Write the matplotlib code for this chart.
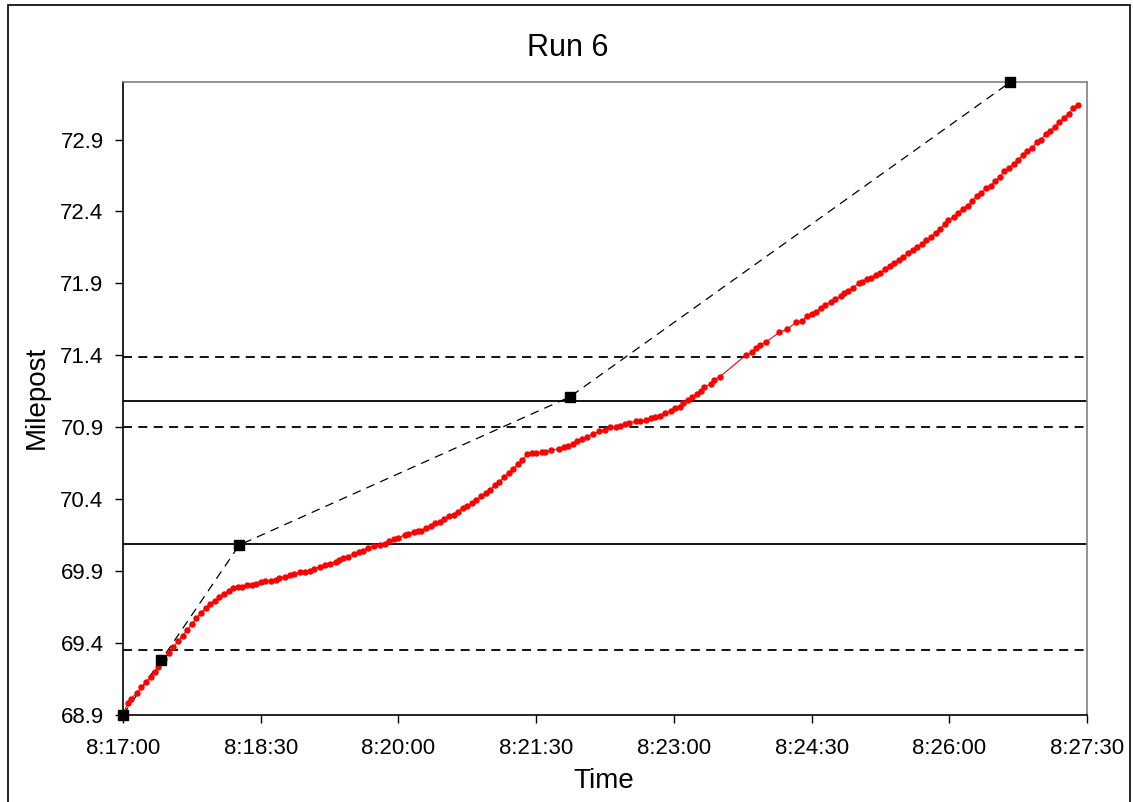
import numpy as np
import matplotlib
matplotlib.use('Agg')
import matplotlib.pyplot as plt
from matplotlib.patches import Rectangle

plt.rcParams['font.family'] = ['Liberation Sans', 'DejaVu Sans']

# seconds after 8:17:00 and milepost of the red trace
secs = [0, 3, 5, 9, 12, 15, 18, 21, 23, 27, 30, 33, 36, 39, 42, 45, 48, 51, 54, 57,
        60, 63, 66, 69, 72, 75, 78, 81, 84, 87, 90, 93, 97, 100, 102, 106, 109, 112, 116, 119,
        122, 125, 129, 132, 135, 139, 141, 144, 147, 151, 154, 157, 160, 164, 168, 171, 174, 177, 180, 184,
        186, 190, 193, 195, 198, 201, 204, 207, 210, 213, 216, 219, 222, 225, 228, 231, 234, 237, 240, 243,
        246, 249, 252, 255, 258, 261, 264, 267, 270, 274, 276, 280, 285, 288, 291, 294, 297, 300, 303, 307,
        311, 315, 318, 322, 325, 328, 331, 335, 338, 342, 345, 348, 351, 354, 358, 361, 364, 366, 369, 372,
        375, 378, 380, 384, 386, 390, 407, 411, 414, 416, 420, 429, 434, 440, 444, 447, 450, 453, 456, 459,
        463, 465, 469, 471, 474, 477, 481, 483, 486, 489, 492, 495, 498, 501, 504, 507, 510, 513, 516, 519,
        522, 525, 528, 531, 534, 537, 539, 543, 546, 549, 552, 555, 558, 561, 564, 567, 570, 573, 576, 579,
        582, 585, 588, 591, 594, 597, 600, 603, 606, 609, 612, 615, 618, 621, 624]
milepost = [68.90, 68.98, 69.01, 69.05, 69.09, 69.13, 69.16, 69.20, 69.23, 69.29, 69.33, 69.37, 69.41, 69.45, 69.49, 69.53, 69.57, 69.61, 69.64, 69.67,
            69.69, 69.72, 69.74, 69.76, 69.78, 69.79, 69.79, 69.80, 69.80, 69.81, 69.82, 69.83, 69.83, 69.84, 69.85, 69.86, 69.87, 69.88, 69.89, 69.89,
            69.90, 69.915, 69.93, 69.94, 69.95, 69.965, 69.975, 69.99, 70.00, 70.02, 70.03, 70.04, 70.06, 70.07, 70.08, 70.09, 70.11, 70.12, 70.13, 70.15,
            70.16, 70.17, 70.18, 70.18, 70.20, 70.21, 70.23, 70.24, 70.26, 70.28, 70.29, 70.31, 70.34, 70.35, 70.37, 70.39, 70.42, 70.44, 70.46, 70.50,
            70.52, 70.55, 70.58, 70.61, 70.64, 70.67, 70.71, 70.72, 70.72, 70.725, 70.73, 70.74, 70.75, 70.76, 70.77, 70.785, 70.80, 70.82, 70.83, 70.85,
            70.87, 70.88, 70.90, 70.90, 70.91, 70.92, 70.93, 70.94, 70.94, 70.95, 70.96, 70.97, 70.98, 71.00, 71.01, 71.03, 71.04, 71.07, 71.09, 71.11,
            71.13, 71.15, 71.18, 71.20, 71.23, 71.25, 71.40, 71.42, 71.45, 71.47, 71.49, 71.56, 71.58, 71.63, 71.64, 71.67, 71.69, 71.70, 71.73, 71.75,
            71.77, 71.79, 71.81, 71.83, 71.85, 71.87, 71.90, 71.91, 71.93, 71.94, 71.96, 71.97, 72.00, 72.02, 72.04, 72.06, 72.08, 72.11, 72.13, 72.15,
            72.17, 72.20, 72.22, 72.25, 72.28, 72.31, 72.34, 72.36, 72.39, 72.42, 72.44, 72.47, 72.51, 72.53, 72.56, 72.58, 72.61, 72.64, 72.68, 72.70,
            72.73, 72.76, 72.79, 72.82, 72.84, 72.88, 72.90, 72.94, 72.96, 72.99, 73.02, 73.05, 73.08, 73.12, 73.14]

# black square markers joined by dashed line
sq_secs = [0, 25, 76, 292, 580]
sq_milepost = [68.90, 69.28, 70.08, 71.11, 73.30]

# reference lines
solid_levels = [71.08, 70.09]
dashed_levels = [71.39, 70.90, 69.35]

xtick_secs = [0, 90, 180, 270, 360, 450, 540, 630]
xtick_labels = ['8:17:00', '8:18:30', '8:20:00', '8:21:30', '8:23:00', '8:24:30', '8:26:00', '8:27:30']
ytick_vals = [68.9, 69.4, 69.9, 70.4, 70.9, 71.4, 71.9, 72.4, 72.9]

fig = plt.figure(figsize=(11.33, 8.02), dpi=100)
ax = fig.add_axes([123/1133, 1 - 714.7/802, (1087-123)/1133, (714.7-82)/802])

for lv in solid_levels:
    ax.axhline(lv, color='black', lw=1.3, zorder=2)
for lv in dashed_levels:
    ax.axhline(lv, color='black', lw=1.3, ls=(0, (5, 3.5)), zorder=2)

ax.plot(sq_secs, sq_milepost, color='black', lw=0.9, ls=(0, (7, 5)), zorder=3)
ax.plot(secs, milepost, color='red', lw=0.8, marker='o', ms=3.6, mec='red', mfc='red', zorder=4)
ax.plot(sq_secs, sq_milepost, ls='none', marker='s', ms=7.5, color='black', zorder=5, clip_on=False)

ax.set_xlim(0, 630)
ax.set_ylim(68.9, 73.3)
ax.set_xticks(xtick_secs)
ax.set_xticklabels(xtick_labels)
ax.set_yticks(ytick_vals)
ax.set_yticklabels([f'{v:.1f}' for v in ytick_vals])
ax.tick_params(direction='out', length=6, width=1, labelsize=16)
ax.tick_params(axis='x', pad=11)
ax.tick_params(axis='y', pad=8)

for s in ['top', 'right']:
    ax.spines[s].set_color('#808080')
for s in ['left', 'bottom']:
    ax.spines[s].set_color('black')
for s in ax.spines.values():
    s.set_linewidth(1.2)

fig.text(568/1133, 1 - 48/802, 'Run 6', ha='center', va='center', fontsize=22)
fig.text(604/1133, 1 - 781/802, 'Time', ha='center', va='center', fontsize=20)
fig.text(37/1133, 1 - 397/802, 'Milepost', ha='center', va='center', rotation=90, fontsize=20)

fig.patches.append(Rectangle((8/1133, -0.02), 1122/1133, 1.02 - 5/802, transform=fig.transFigure,
                             fill=False, edgecolor='black', lw=1.2))

fig.savefig('out.png', dpi=100)
